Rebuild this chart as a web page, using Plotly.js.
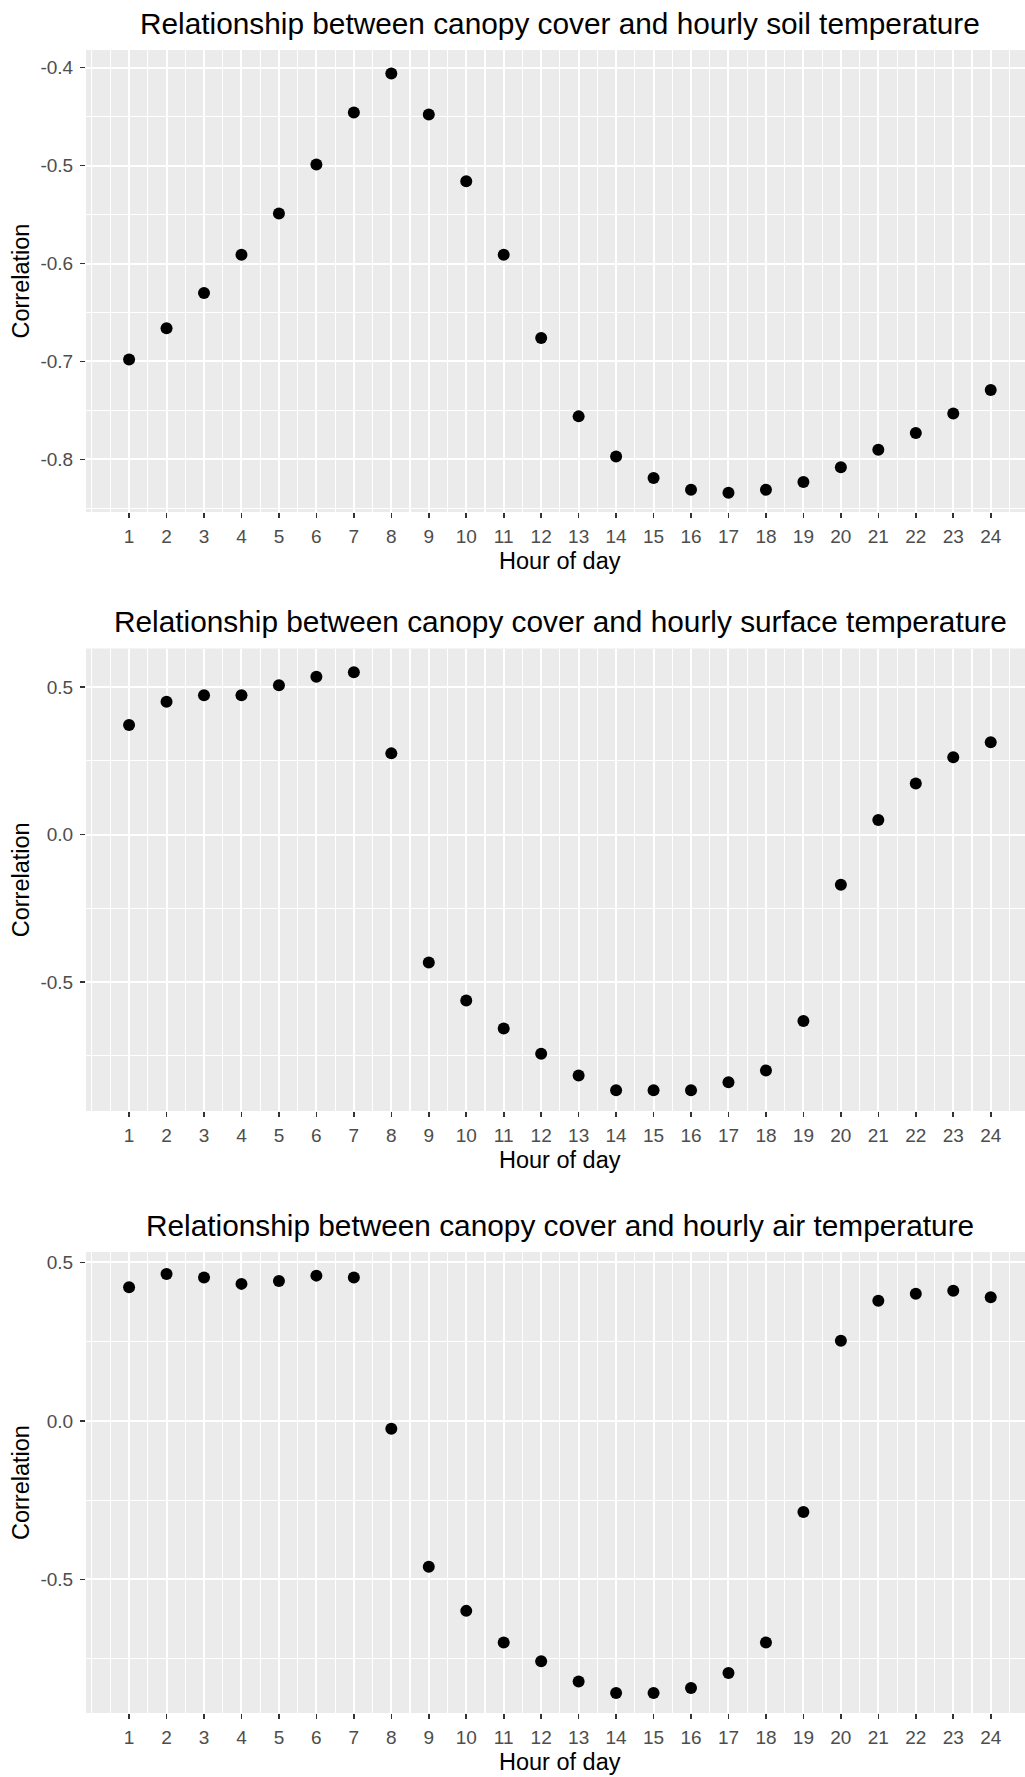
<!DOCTYPE html>
<html>
<head>
<meta charset="utf-8">
<script src="https://cdn.plot.ly/plotly-3.0.1.min.js"></script>
<style>
  html, body { margin: 0; padding: 0; background: #ffffff; }
  #chart { width: 1025px; height: 1777px; }
</style>
</head>
<body>
<div id="chart"></div>
<script>
// Hour of day (x) and correlation of canopy cover with each hourly temperature (y)
const hours = [1, 2, 3, 4, 5, 6, 7, 8, 9, 10, 11, 12, 13, 14, 15, 16, 17, 18, 19, 20, 21, 22, 23, 24];

const soilCorr = [-0.698, -0.666, -0.630, -0.591, -0.549, -0.499, -0.446, -0.406,
                  -0.448, -0.516, -0.591, -0.676, -0.756, -0.797, -0.819, -0.831,
                  -0.834, -0.831, -0.823, -0.808, -0.790, -0.773, -0.753, -0.729];

const surfaceCorr = [0.371, 0.450, 0.472, 0.472, 0.506, 0.535, 0.550, 0.275,
                     -0.434, -0.563, -0.658, -0.743, -0.817, -0.867, -0.867, -0.867,
                     -0.840, -0.800, -0.632, -0.170, 0.049, 0.173, 0.262, 0.313];

const airCorr = [0.421, 0.463, 0.452, 0.432, 0.441, 0.458, 0.452, -0.025,
                 -0.460, -0.599, -0.699, -0.758, -0.822, -0.858, -0.858, -0.842,
                 -0.795, -0.699, -0.287, 0.253, 0.379, 0.401, 0.410, 0.390];

const panelTitles = [
  "Relationship between canopy cover and hourly soil temperature",
  "Relationship between canopy cover and hourly surface temperature",
  "Relationship between canopy cover and hourly air temperature"
];
const xTitle = "Hour of day";
const yTitle = "Correlation";

const soilTicks = [-0.8, -0.7, -0.6, -0.5, -0.4];
const soilTickText = ["-0.8", "-0.7", "-0.6", "-0.5", "-0.4"];
const surfaceTicks = [-0.5, 0.0, 0.5];
const surfaceTickText = ["-0.5", "0.0", "0.5"];
const airTicks = [-0.5, 0.0, 0.5];
const airTickText = ["-0.5", "0.0", "0.5"];

const series = [soilCorr, surfaceCorr, airCorr];

// Layout geometry (page is 1025 x 1777 px)
const W = 1025, H = 1777;
const FONT = "Liberation Sans, Arial, Helvetica, sans-serif";
const panels = [
  { top: 50,    bottom: 512,  range: [-0.8536, -0.3821], ticks: soilTicks,    labels: soilTickText,    minor: 0.05 },
  { top: 648.5, bottom: 1111, range: [-0.9373, 0.6305],  ticks: surfaceTicks, labels: surfaceTickText, minor: 0.25 },
  { top: 1252,  bottom: 1713, range: [-0.921, 0.5325],   ticks: airTicks,     labels: airTickText,     minor: 0.25 }
];
const xLeft = 86;
const xRange = [-0.15, 24.915];

const traces = [];
const layout = {
  width: W, height: H,
  margin: { l: 0, r: 0, t: 0, b: 0, pad: 0 },
  paper_bgcolor: "#ffffff",
  plot_bgcolor: "#EBEBEB",
  showlegend: false,
  font: { family: FONT, color: "#000000" },
  annotations: []
};

panels.forEach((p, i) => {
  const n = i === 0 ? "" : String(i + 1);
  traces.push({
    type: "scatter",
    mode: "markers",
    x: hours,
    y: series[i],
    xaxis: "x" + n,
    yaxis: "y" + n,
    marker: { color: "#000000", size: 12 },
    hoverinfo: "x+y"
  });

  layout["xaxis" + n] = {
    anchor: "y" + n,
    domain: [xLeft / W, 1],
    range: xRange,
    tickmode: "array",
    tickvals: hours,
    ticktext: hours.map(String),
    ticks: "outside",
    ticklen: 5,
    tickwidth: 1.6,
    tickcolor: "#333333",
    tickfont: { family: FONT, size: 19, color: "#4D4D4D" },
    ticklabelstandoff: 2,
    showgrid: true,
    gridcolor: "#ffffff",
    gridwidth: 2,
    minor: { tickmode: "linear", tick0: 0, dtick: 0.5, showgrid: true, gridcolor: "#ffffff", gridwidth: 1.1 },
    zeroline: false,
    showline: false,
    fixedrange: true
  };

  layout["yaxis" + n] = {
    anchor: "x" + n,
    domain: [1 - p.bottom / H, 1 - p.top / H],
    range: p.range,
    tickmode: "array",
    tickvals: p.ticks,
    ticktext: p.labels,
    ticks: "outside",
    ticklen: 5,
    tickwidth: 1.6,
    tickcolor: "#333333",
    tickfont: { family: FONT, size: 19, color: "#4D4D4D" },
    ticklabelstandoff: 3,
    showgrid: true,
    gridcolor: "#ffffff",
    gridwidth: 2,
    minor: { tickmode: "linear", tick0: 0, dtick: p.minor, showgrid: true, gridcolor: "#ffffff", gridwidth: 1.1 },
    zeroline: false,
    showline: false,
    fixedrange: true
  };

  // panel title, centred over the panel
  layout.annotations.push({
    text: panelTitles[i],
    xref: "paper", yref: "paper",
    x: 560 / W, y: 1 - (p.top - 27) / H,
    xanchor: "center", yanchor: "middle",
    showarrow: false,
    font: { family: FONT, size: 29.8, color: "#000000" }
  });
  // x axis title
  layout.annotations.push({
    text: xTitle,
    xref: "paper", yref: "paper",
    x: 560 / W, y: 1 - (p.bottom + 49) / H,
    xanchor: "center", yanchor: "middle",
    showarrow: false,
    font: { family: FONT, size: 23.5, color: "#000000" }
  });
  // y axis title
  layout.annotations.push({
    text: yTitle,
    xref: "paper", yref: "paper",
    x: 20.5 / W, y: 1 - ((p.top + p.bottom) / 2) / H,
    xanchor: "center", yanchor: "middle",
    textangle: -90,
    showarrow: false,
    font: { family: FONT, size: 23.5, color: "#000000" }
  });
});

Plotly.newPlot("chart", traces, layout, { staticPlot: true, displayModeBar: false });
</script>
</body>
</html>
